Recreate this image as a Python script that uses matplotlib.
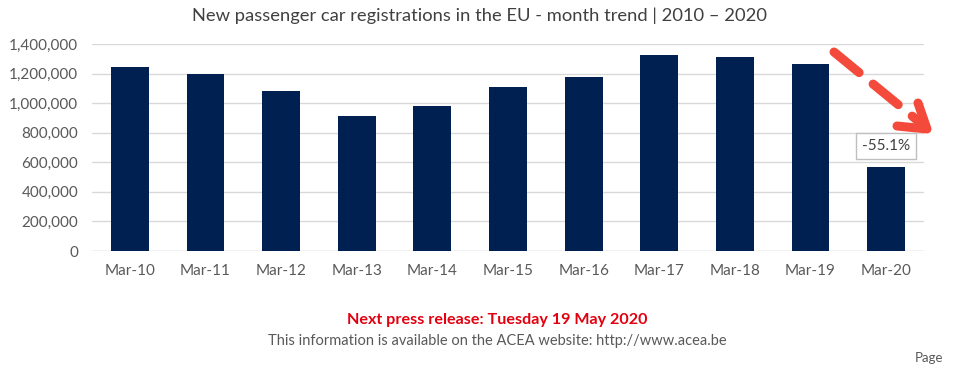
import matplotlib
matplotlib.use("Agg")
import matplotlib.pyplot as plt
from matplotlib.ticker import FuncFormatter
from matplotlib.lines import Line2D

categories = ["Mar-10", "Mar-11", "Mar-12", "Mar-13", "Mar-14", "Mar-15",
              "Mar-16", "Mar-17", "Mar-18", "Mar-19", "Mar-20"]
registrations = [1244000, 1194000, 1082000, 910000, 981000, 1109000,
                 1177000, 1328000, 1314000, 1263000, 567000]
change_label = "-55.1%"
yticks = [0, 200000, 400000, 600000, 800000, 1000000, 1200000, 1400000]

plt.rcParams['font.family'] = ['Lato', 'DejaVu Sans']

W, H = 958, 366
fig = plt.figure(figsize=(W / 100, H / 100), dpi=100)
ax = fig.add_axes([0.096, 0.314, 0.8685, 0.566])

x = list(range(len(categories)))
ax.bar(x, registrations, width=0.5, color="#002051", zorder=3)
ax.set_xlim(-0.5, len(categories) - 0.5)
ax.set_ylim(0, 1400000)
ax.set_yticks(yticks)
ax.yaxis.set_major_formatter(FuncFormatter(lambda v, p: f"{int(v):,}"))
ax.set_xticks(x)
ax.set_xticklabels(categories)
ax.tick_params(axis='both', length=0, labelsize=11, labelcolor="#595959")
ax.tick_params(axis='x', pad=9)
ax.tick_params(axis='y', pad=10)
ax.grid(axis='y', color="#d9d9d9", linewidth=1, zorder=0)
for s in ax.spines.values():
    s.set_visible(False)
ax.axhline(0, color="#d9d9d9", linewidth=1, zorder=2)

# data callout for last bar
ax.annotate(change_label, xy=(x[-1], registrations[-1]), xytext=(0, 15),
            textcoords="offset points", ha="center", va="center",
            fontsize=11, color="#404040",
            bbox=dict(boxstyle="square,pad=0.4", fc="white", ec="#bfbfbf", lw=1),
            zorder=5)

fig.text(0.5, 0.958, "New passenger car registrations in the EU - month trend | 2010 \u2013 2020",
         ha="center", va="center", fontsize=13.2, color="#404040")

# dashed red arrow (decoration)
def fx(px):
    return px / W

def fy(py):
    return 1 - py / H

red = "#f44a3b"
fig.add_artist(Line2D([fx(834), fx(923)], [fy(52), fy(125)], color=red, lw=6.5,
                      linestyle=(0, (3.6, 2.0)), solid_capstyle='round',
                      dash_capstyle='round'))
fig.add_artist(Line2D([fx(918), fx(927), fx(897)], [fy(103), fy(129), fy(126)],
                      color=red, lw=6.5, solid_capstyle='round', solid_joinstyle='round'))

fig.text(0.519, 1 - 320 / 366, "Next press release: Tuesday 19 May 2020",
         ha="center", va="center", fontsize=11.6, fontweight="bold", color="#e3000f")
fig.text(0.519, 1 - 341 / 366, "This information is available on the ACEA website: http://www.acea.be",
         ha="center", va="center", fontsize=10.5, color="#595959")
fig.text(915 / W, 2 / H, "Page", ha="left", va="bottom", fontsize=9.5, color="#595959")

fig.savefig("out.png", dpi=100)
